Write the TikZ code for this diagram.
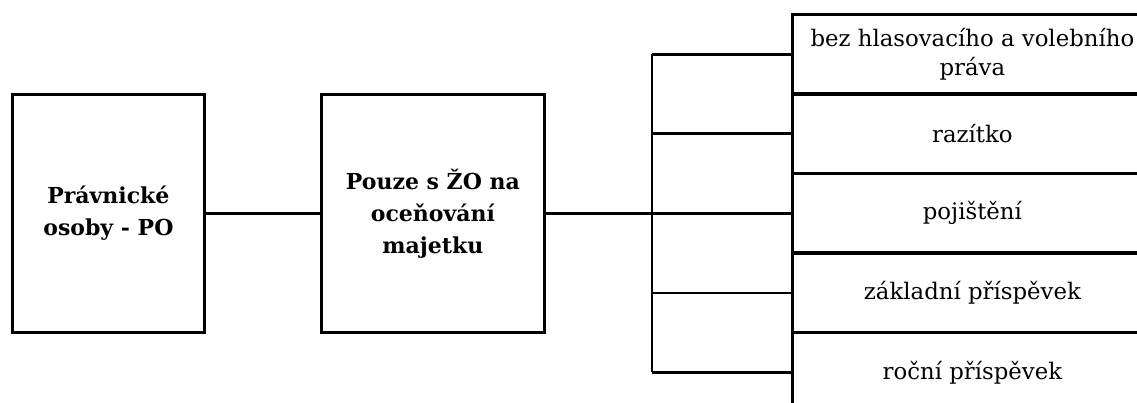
\documentclass[tikz,border=0pt]{standalone}
\usepackage{fontspec}
\setmainfont{DejaVu Serif}
\begin{document}
\begin{tikzpicture}[x=1pt,y=-1pt,
  box/.style={draw,line width=2.8pt,minimum width=#1,inner sep=0pt,align=center,anchor=north west},
  lead/.style={line width=2.8pt},
  bigtxt/.style={font=\fontsize{22}{32}\selectfont\bfseries},
  smalltxt/.style={font=\fontsize{22.8}{29}\selectfont}]
\useasboundingbox (0,0) rectangle (1137,403);
\node[box=192pt,minimum height=238pt,bigtxt] (po) at (11,93) {Právnické\\osoby - PO};
\node[box=223pt,minimum height=238pt,bigtxt] (zo) at (320,93) {Pouze s ŽO na\\oceňování\\majetku};
\foreach \i/\t in {1/{bez hlasovacího a volebního\\práva},2/razítko,3/pojištění,4/základní příspěvek,5/roční příspěvek}{
  \node[box=360pt,minimum height=80pt,smalltxt] (r\i) at (791,{13+79.5*(\i-1)}) {\t};
}
\draw[lead] (po.east) -- (zo.west);
\coordinate (fork) at (652,212);
\draw[lead] (zo.east) -- (zo.east -| fork);
\draw[lead] (r1.west -| fork) -- (r5.west -| fork);
\foreach \i in {1,...,5}{\draw[lead] (r\i.west -| fork) -- (r\i.west);}
\end{tikzpicture}
\end{document}
